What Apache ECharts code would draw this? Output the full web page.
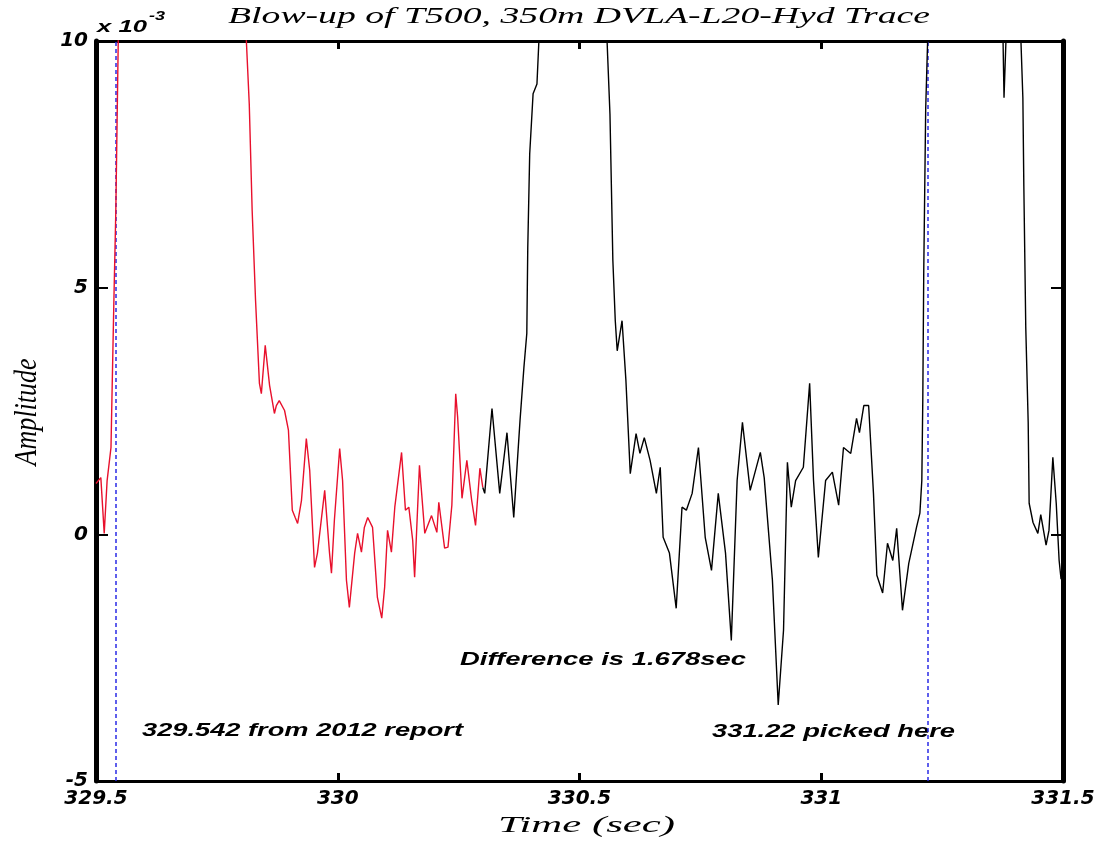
<!DOCTYPE html>
<html>
<head>
<meta charset="utf-8">
<script src="https://cdn.jsdelivr.net/npm/echarts@6/dist/echarts.min.js"></script>
<style>html,body{margin:0;padding:0;background:#fff;}#c{width:1104px;height:847px;}</style>
</head>
<body>
<div id="c"></div>
<script>
// ---- data (amplitude in units of 1e-3) ----
const redTime = [329.500,329.510,329.517,329.523,329.531,329.533,329.537,329.541,329.546,329.555,329.600,329.700,329.800,329.811,329.817,329.823,329.830,329.838,329.842,329.850,329.859,329.869,329.873,329.879,329.890,329.898,329.906,329.912,329.917,329.925,329.935,329.942,329.952,329.958,329.973,329.983,329.987,329.993,330.004,330.010,330.018,330.024,330.035,330.041,330.049,330.055,330.062,330.072,330.082,330.091,330.097,330.103,330.111,330.118,330.132,330.140,330.147,330.155,330.159,330.169,330.180,330.194,330.205,330.209,330.221,330.228,330.236,330.244,330.248,330.257,330.267,330.277,330.285,330.294,330.300];
const redAmp = [1.03,1.15,0.02,1.09,1.76,2.77,4.74,6.56,10.0,13,16,15,12,10.0,8.72,6.56,4.74,3.06,2.85,3.83,3.02,2.45,2.61,2.71,2.51,2.11,0.49,0.34,0.22,0.69,1.94,1.30,-0.67,-0.38,0.89,-0.38,-0.79,0.28,1.74,1.09,-0.93,-1.48,-0.38,0.02,-0.36,0.14,0.34,0.14,-1.28,-1.70,-1.07,0.08,-0.36,0.55,1.66,0.49,0.55,-0.12,-0.87,1.40,0.02,0.38,0.04,0.65,-0.28,-0.26,0.59,2.85,2.37,0.73,1.50,0.69,0.18,1.34,0.95];
const blackTime = [330.300,330.304,330.319,330.335,330.350,330.364,330.377,330.385,330.391,330.393,330.397,330.404,330.412,330.416,330.430,330.480,330.530,330.557,330.563,330.569,330.574,330.578,330.588,330.596,330.605,330.617,330.625,330.634,330.646,330.659,330.667,330.673,330.686,330.700,330.712,330.721,330.733,330.746,330.760,330.773,330.787,330.802,330.814,330.826,330.837,330.853,330.874,330.882,330.899,330.911,330.922,330.930,330.938,330.947,330.963,330.976,330.984,330.994,331.009,331.023,331.036,331.046,331.061,331.073,331.079,331.088,331.098,331.108,331.115,331.127,331.137,331.148,331.156,331.168,331.181,331.197,331.204,331.208,331.210,331.212,331.216,331.220,331.240,331.300,331.365,331.376,331.378,331.382,331.390,331.405,331.413,331.417,331.419,331.423,331.428,331.430,331.438,331.448,331.454,331.465,331.471,331.479,331.486,331.492,331.496];
const blackAmp = [0.95,0.83,2.55,0.83,2.06,0.34,2.31,3.38,4.07,5.81,7.71,8.93,9.13,10.0,13,16,13,10.0,8.52,5.55,4.33,3.72,4.33,3.12,1.23,2.04,1.64,1.96,1.50,0.83,1.36,-0.06,-0.38,-1.50,0.55,0.49,0.83,1.76,-0.06,-0.73,0.83,-0.38,-2.15,1.09,2.27,0.89,1.66,1.15,-0.93,-3.46,-1.94,1.46,0.55,1.09,1.36,3.06,1.09,-0.47,1.09,1.26,0.59,1.76,1.64,2.35,2.06,2.61,2.61,0.83,-0.83,-1.19,-0.18,-0.53,0.12,-1.54,-0.59,0.14,0.43,1.09,2.71,5.34,8.62,10.0,14,18,13,10.0,8.85,10.0,14,14,10.0,8.85,7.06,4.19,2.27,0.63,0.24,0.02,0.40,-0.22,0.08,1.56,0.63,-0.53,-0.91];
const pickTimes = [329.542, 331.22];
const xTickLabels = ['329.5','330','330.5','331','331.5'];
const yTickLabels = ['-5','0','5','10'];
const titleText = 'Blow-up of T500, 350m DVLA-L20-Hyd Trace';
const xName = 'Time (sec)';
const yName = 'Amplitude';
const note1 = '329.542 from 2012 report';
const note2 = '331.22 picked here';
const note3 = 'Difference is 1.678sec';

// ---- helpers ----
const mctx = document.createElement('canvas').getContext('2d');
function fit(text, font, w){ mctx.font = font; return w / mctx.measureText(text).width; }
function txt(text, font, left, midY, width){
  const s = fit(text, font, width);
  return {
    type:'text', x:left, y:midY, scaleX:s, silent:true,
    style:{ text:text, font:font, fill:'#000', textAlign:'left', textVerticalAlign:'middle', align:'left', verticalAlign:'middle' }
  };
}
const serifIt = (px)=> 'italic ' + px + 'px "Liberation Serif"';
const sansBI = (px)=> 'italic bold ' + px + 'px "Liberation Sans"';

const chart = echarts.init(document.getElementById('c'), null, {renderer:'canvas'});
const tickFont = {fontFamily:'DejaVu Sans', fontWeight:'bold', fontStyle:'italic', fontSize:20, color:'#000'};
const dashStyle = {color:'#2a2ae6', width:1.5, type:[4,3], opacity:1};

const option = {
  backgroundColor:'#fff',
  animation:false,
  grid:{left:96, right:41, top:41, bottom:66, containLabel:false},
  xAxis:[
    {type:'value', position:'bottom', min:329.5, max:331.5, interval:0.5,
     axisLine:{show:true, onZero:false, lineStyle:{color:'#000', width:3}},
     axisTick:{show:true, inside:true, length:8, lineStyle:{color:'#000', width:3}},
     axisLabel:Object.assign({margin:8, formatter:(v)=>xTickLabels[Math.round((v-329.5)/0.5)]}, tickFont),
     splitLine:{show:false}},
    {type:'value', position:'top', min:329.5, max:331.5, interval:0.5,
     axisLine:{show:true, onZero:false, lineStyle:{color:'#000', width:3}},
     axisTick:{show:true, inside:true, length:8, lineStyle:{color:'#000', width:3}},
     axisLabel:{show:false}, splitLine:{show:false}}
  ],
  yAxis:[
    {type:'value', position:'left', min:-5, max:10, interval:5,
     axisLine:{show:true, onZero:false, lineStyle:{color:'#000', width:5}},
     axisTick:{show:true, inside:true, length:12, lineStyle:{color:'#000', width:2}},
     axisLabel:Object.assign({margin:8, formatter:(v)=>yTickLabels[Math.round((v+5)/5)]}, tickFont),
     splitLine:{show:false}},
    {type:'value', position:'right', min:-5, max:10, interval:5,
     axisLine:{show:true, onZero:false, lineStyle:{color:'#000', width:5}},
     axisTick:{show:true, inside:true, length:12, lineStyle:{color:'#000', width:2}},
     axisLabel:{show:false}, splitLine:{show:false}}
  ],
  series:[
    {type:'line', name:'red', xAxisIndex:0, yAxisIndex:0, showSymbol:false, clip:true, z:3,
     lineStyle:{color:'#e8102c', width:1.4}, itemStyle:{color:'#e8102c'},
     data: redTime.map((t,i)=>[t, redAmp[i]]),
     markLine:{silent:true, symbol:['none','none'], label:{show:false}, z:2,
       lineStyle:dashStyle, emphasis:{disabled:true},
       data: pickTimes.map(t=>({xAxis:t, lineStyle:dashStyle}))}},
    {type:'line', name:'black', xAxisIndex:0, yAxisIndex:0, showSymbol:false, clip:true, z:3,
     lineStyle:{color:'#000', width:1.4}, itemStyle:{color:'#000'},
     data: blackTime.map((t,i)=>[t, blackAmp[i]])}
  ],
  graphic:[
    txt(titleText, serifIt(23), 228, 17, 702),
    txt('x 10', sansBI(17), 97, 27, 50),
    txt('-3', sansBI(12), 149, 17, 16),
    txt(note3, sansBI(18), 460, 660, 286),
    txt(note1, sansBI(19), 142, 731, 321),
    txt(note2, sansBI(19), 712, 732, 243),
    txt(xName, serifIt(24), 498, 826, 177),
    {type:'text', x:27, y:412, rotation:Math.PI/2, scaleY:1.25, silent:true,
     style:{text:yName, font:serifIt(26), fill:'#000', textAlign:'center', textVerticalAlign:'middle', align:'center', verticalAlign:'middle'}}
  ]
};
chart.setOption(option);
</script>
</body>
</html>
